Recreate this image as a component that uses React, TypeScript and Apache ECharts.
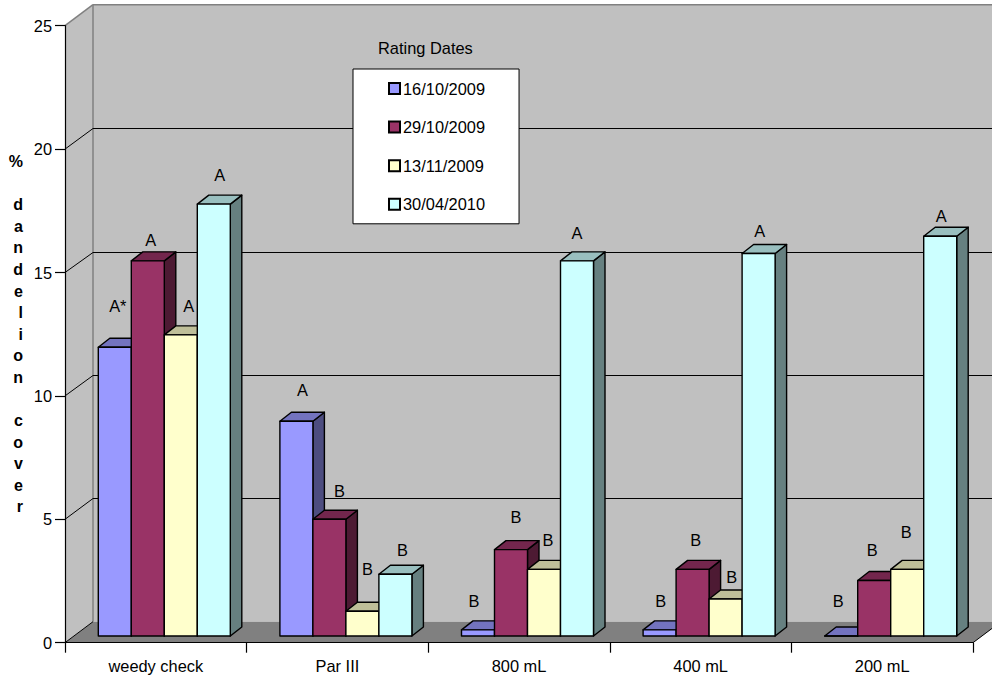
import React, { useEffect, useRef } from "react";
import * as echarts from "echarts";

const categories = ["weedy check", "Par III", "800 mL", "400 mL", "200 mL"];
const seriesNames = ["16/10/2009", "29/10/2009", "13/11/2009", "30/04/2010"];
const values16Oct = [11.7, 8.7, 0.25, 0.25, 0];
const values29Oct = [15.2, 4.73, 3.5, 2.7, 2.25];
const values13Nov = [12.2, 1.0, 2.7, 1.5, 2.7];
const values30Apr = [17.5, 2.5, 15.2, 15.5, 16.2];
const letters16Oct = ["A*", "A", "B", "B", "B"];
const letters29Oct = ["A", "B", "B", "B", "B"];
const letters13Nov = ["A", "B", "B", "B", "B"];
const letters30Apr = ["A", "B", "A", "A", "A"];
const yTicks = [0, 5, 10, 15, 20, 25];
const yTitle = "%\n\nd\na\nn\nd\ne\nl\ni\no\nn\n\nc\no\nv\ne\nr";

const allValues = [values16Oct, values29Oct, values13Nov, values30Apr];
const allLetters = [letters16Oct, letters29Oct, letters13Nov, letters30Apr];

// layout only: hand placement of each letter relative to its bar's top centre [dx, dy]
const labelPlacement = [
  [[3, -41], [6, -31], [-4, -29], [1, -29], [-3, -35]],
  [[3, -21], [10, -28], [5, -33], [3, -29], [-2, -30]],
  [[8, -29], [5, -42], [4, -29], [6, -22], [-1, -37]],
  [[6, -29], [7, -24], [0, -28], [1, -22], [1, -20]],
];
const faceColors = ["#9999FF", "#993366", "#FFFFCC", "#CCFFFF"];
const topColors = ["#7373BF", "#73264D", "#BFBF99", "#99BFBF"];
const sideColors = ["#4D4D80", "#4D1A33", "#808066", "#668080"];

const WALL_DX = 28;
const WALL_DY = -21;
const BAR_SHIFT_X = 8.5;
const BAR_SHIFT_Y = -6.7;
const BAR_W = 33;
const BAR_DX = 11.5;
const BAR_DY = -9;
const FONT = "'Liberation Sans', Arial, sans-serif";
const FONT_SIZE = 16.4;
const INK = "#000000";
const LW = 1.4;
const GRID_LW = 1;

function renderWalls(_: any, api: any) {
  const x0 = api.coord([0, 0])[0] - api.size([1, 0])[0] / 2;
  const x1 = x0 + api.size([1, 0])[0] * categories.length;
  const yOf = (v: number) => api.coord([0, v])[1];
  const yb = yOf(0);
  const yt = yOf(25);
  const poly = (points: number[][], fill: string) => ({
    type: "polygon",
    shape: { points },
    style: { fill, stroke: "none" },
  });
  const line = (a: number[], b: number[], stroke: string, lw = GRID_LW) => ({
    type: "line",
    shape: { x1: a[0], y1: a[1], x2: b[0], y2: b[1] },
    style: { stroke, lineWidth: lw },
  });
  const children: any[] = [
    poly([[x0 + WALL_DX, yt + WALL_DY], [x1 + WALL_DX, yt + WALL_DY], [x1 + WALL_DX, yb + WALL_DY], [x0 + WALL_DX, yb + WALL_DY]], "#C0C0C0"),
    poly([[x0, yt], [x0 + WALL_DX, yt + WALL_DY], [x0 + WALL_DX, yb + WALL_DY], [x0, yb]], "#C0C0C0"),
    poly([[x0, yb], [x1, yb], [x1 + WALL_DX, yb + WALL_DY], [x0 + WALL_DX, yb + WALL_DY]], "#808080"),
    line([x0, yt], [x0 + WALL_DX, yt + WALL_DY], "#808080", 1.5),
    line([x0 + WALL_DX, yt + WALL_DY], [x0 + WALL_DX, yb + WALL_DY], "#808080", 1.5),
    line([x0 + WALL_DX, yt + WALL_DY], [x1 + WALL_DX, yt + WALL_DY], "#808080", 1.5),
    line([x0, yb], [x0 + WALL_DX, yb + WALL_DY], INK),
    line([x1, yb], [x1 + WALL_DX, yb + WALL_DY], INK),
  ];
  yTicks.slice(1, -1).forEach((t) => {
    const y = yOf(t);
    const yBack = Math.round(y + WALL_DY) + 0.5;
    children.push(line([x0, y], [x0 + WALL_DX, yBack], INK));
    children.push(line([x0 + WALL_DX, yBack], [x1 + WALL_DX, yBack], INK));
  });
  return { type: "group", children };
}

function makeBarRenderer(seriesIndex: number) {
  return (_: any, api: any) => {
    const cat = api.value(0);
    const val = api.value(1);
    const base = api.coord([cat, 0]);
    const top = api.coord([cat, val]);
    const left = base[0] + BAR_SHIFT_X + (seriesIndex - 2) * BAR_W;
    const right = left + BAR_W;
    const yb = base[1] + BAR_SHIFT_Y;
    const yt = top[1] + BAR_SHIFT_Y;
    const stroke = { stroke: INK, lineWidth: LW, lineJoin: "round" };
    const [dx, dy] = labelPlacement[seriesIndex][cat];
    return {
      type: "group",
      children: [
        {
          type: "polygon",
          shape: { points: [[right, yt], [right + BAR_DX, yt + BAR_DY], [right + BAR_DX, yb + BAR_DY], [right, yb]] },
          style: { fill: sideColors[seriesIndex], ...stroke },
        },
        {
          type: "polygon",
          shape: { points: [[left, yt], [left + BAR_DX, yt + BAR_DY], [right + BAR_DX, yt + BAR_DY], [right, yt]] },
          style: { fill: topColors[seriesIndex], ...stroke },
        },
        {
          type: "rect",
          shape: { x: left, y: yt, width: BAR_W, height: yb - yt },
          style: { fill: faceColors[seriesIndex], ...stroke },
        },
        {
          type: "text",
          z2: 100,
          style: {
            x: left + BAR_W / 2 + dx,
            y: yt + dy,
            text: allLetters[seriesIndex][cat],
            fill: "#000000",
            font: `${FONT_SIZE}px ${FONT}`,
            align: "center",
            verticalAlign: "middle",
          },
        },
      ],
    };
  };
}

export default function App() {
  const ref = useRef<HTMLDivElement>(null);
  useEffect(() => {
    const chart = echarts.init(ref.current!, undefined, { renderer: "svg" });
    chart.setOption({
      animation: false,
      backgroundColor: "#FFFFFF",
      grid: { left: 65, right: 19, top: 25.7, bottom: 38.3, containLabel: false },
      xAxis: {
        type: "category",
        data: categories,
        boundaryGap: true,
        axisLine: { show: true, lineStyle: { color: INK, width: 1.2 } },
        axisTick: { show: true, inside: false, length: 10, alignWithLabel: false, lineStyle: { color: INK, width: 1.2 } },
        axisLabel: { color: "#000000", fontFamily: FONT, fontSize: FONT_SIZE, margin: 15, interval: 0 },
        splitLine: { show: false },
        z: 5,
      },
      yAxis: {
        type: "value",
        min: 0,
        max: 25,
        interval: 5,
        name: yTitle,
        nameLocation: "middle",
        nameRotate: 0,
        nameGap: 42,
        nameTextStyle: { color: "#000000", fontFamily: FONT, fontSize: 16, fontWeight: "bold", lineHeight: 21.6 },
        axisLine: { show: true, lineStyle: { color: INK, width: 1.2 } },
        axisTick: { show: true, inside: false, length: 10, lineStyle: { color: INK, width: 1.2 } },
        axisLabel: { color: "#000000", fontFamily: FONT, fontSize: FONT_SIZE, margin: 13 },
        splitLine: { show: false },
        z: 5,
      },
      legend: {
        show: true,
        orient: "vertical",
        left: 353,
        top: 69,
        padding: [11.5, 34, 11.5, 35],
        backgroundColor: "#FFFFFF",
        borderColor: "#000000",
        borderWidth: 1,
        borderRadius: 0,
        itemWidth: 11,
        itemHeight: 11,
        itemGap: 22.6,
        selectedMode: false,
        icon: "rect",
        textStyle: { color: "#000000", fontFamily: FONT, fontSize: FONT_SIZE, padding: [0, 0, 0, -2] },
        data: seriesNames,
        z: 20,
      },
      graphic: [
        {
          type: "text",
          left: 378,
          top: 40,
          z: 20,
          style: { text: "Rating Dates", fill: "#000000", font: `${FONT_SIZE}px ${FONT}` },
        },
      ],
      series: [
        {
          type: "custom",
          name: "walls",
          coordinateSystem: "cartesian2d",
          renderItem: renderWalls,
          data: [[0, 0]],
          silent: true,
          clip: false,
          z: 1,
        },
        ...seriesNames.map((name, j) => ({
          type: "custom",
          name,
          coordinateSystem: "cartesian2d",
          renderItem: makeBarRenderer(j),
          data: categories.map((_, i) => [i, allValues[j][i]]),
          encode: { x: 0, y: 1 },
          clip: false,
          silent: true,
          z: 2 + j,
          itemStyle: { color: faceColors[j], borderColor: "#000000", borderWidth: 1.2 },
        })),
      ],
    });
    return () => chart.dispose();
  }, []);
  return <div ref={ref} style={{ position: "fixed", left: 0, top: 0, width: 992, height: 681 }} />;
}
